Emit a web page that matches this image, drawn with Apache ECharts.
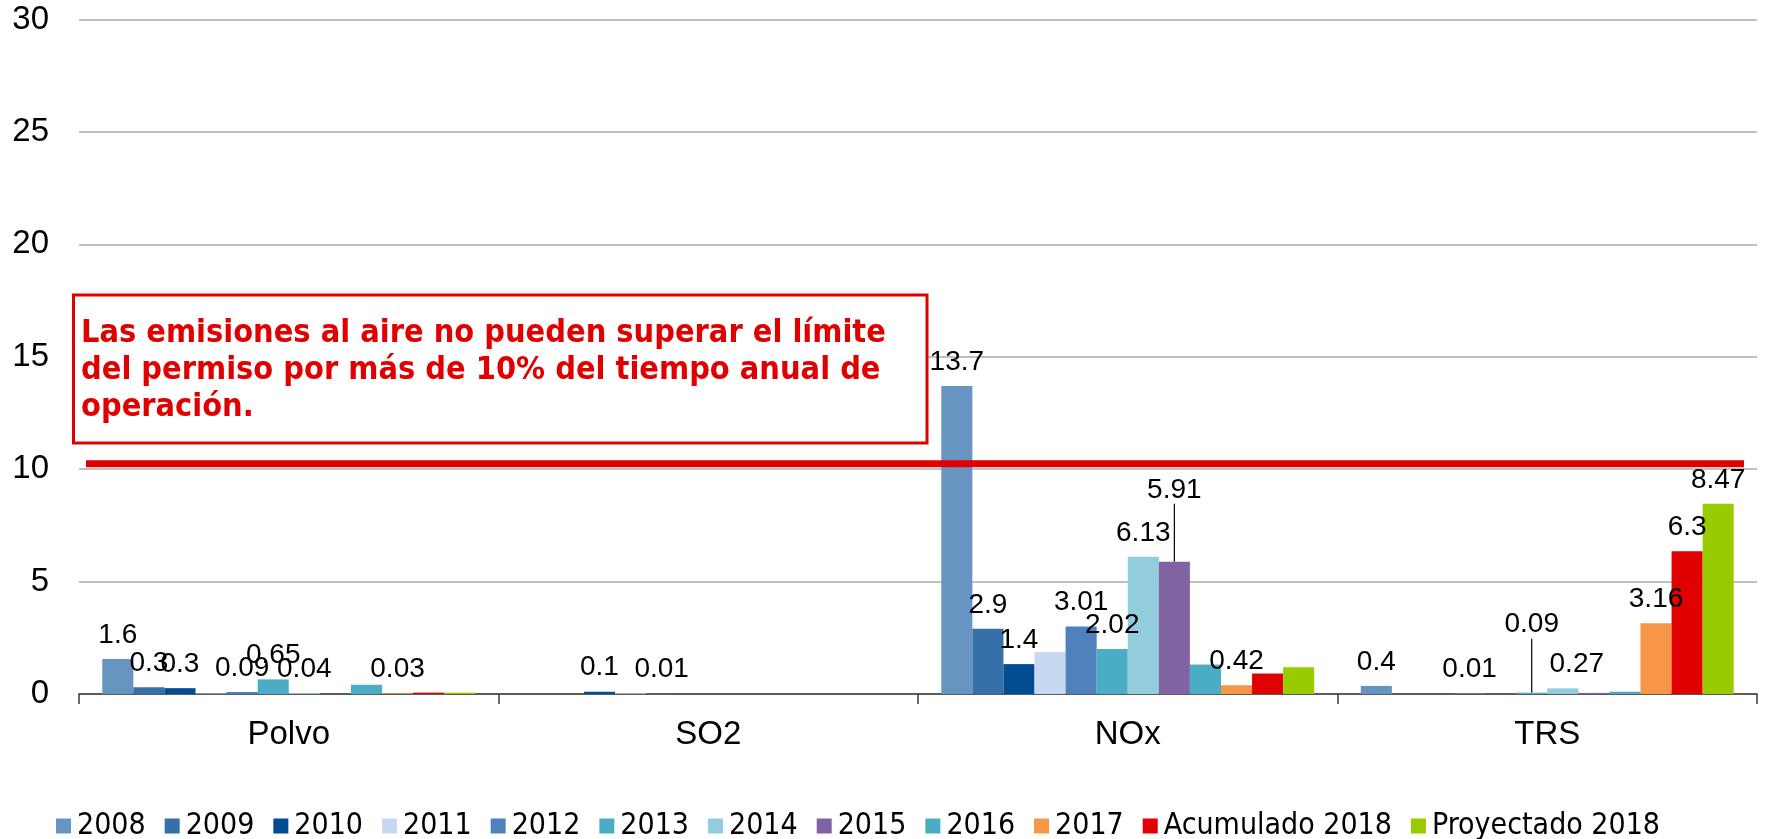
<!DOCTYPE html>
<html>
<head>
<meta charset="utf-8">
<script src="https://cdn.jsdelivr.net/npm/echarts@6/dist/echarts.min.js"></script>
<style>html,body{margin:0;padding:0;background:#fff}#c{width:1770px;height:839px}</style>
</head>
<body>
<div id="c"></div>
<script>
// ---- data ----
const categories = ['Polvo', 'SO2', 'NOx', 'TRS'];
const seriesNames = ['2008', '2009', '2010', '2011', '2012', '2013', '2014', '2015', '2016', '2017', 'Acumulado 2018', 'Proyectado 2018'];

const values2008 = [1.56, 0, 13.7, 0.36];
const values2009 = [0.3, 0, 2.9, 0];
const values2010 = [0.26, 0.1, 1.33, 0];
const values2011 = [0.02, 0.03, 1.87, 0.01];
const values2012 = [0.09, 0.01, 3.0, 0];
const values2013 = [0.65, 0, 2.0, 0.06];
const values2014 = [0.04, 0, 6.1, 0.25];
const values2015 = [0, 0, 5.88, 0.05];
const values2016 = [0.41, 0, 1.31, 0.1];
const values2017 = [0.03, 0, 0.39, 3.15];
const valuesAcum2018 = [0.06, 0, 0.91, 6.35];
const valuesProy2018 = [0.06, 0, 1.19, 8.46];

const labels2008 = ['1.6', '', '13.7', '0.4'];
const labels2009 = ['0.3', '', '2.9', ''];
const labels2010 = ['0.3', '0.1', '1.4', ''];
const labels2011 = ['', '', '', '0.01'];
const labels2012 = ['0.09', '0.01', '3.01', ''];
const labels2013 = ['0.65', '', '2.02', '0.09'];
const labels2014 = ['0.04', '', '6.13', '0.27'];
const labels2015 = ['', '', '5.91', ''];
const labels2016 = ['', '', '', ''];
const labels2017 = ['0.03', '', '0.42', '3.16'];
const labelsAcum2018 = ['', '', '', '6.3'];
const labelsProy2018 = ['', '', '', '8.47'];

const yMin = 0, yMax = 30, yInterval = 5;
const limitValue = 10.24;
const noteText = 'Las emisiones al aire no pueden superar el límite\ndel permiso por más de 10% del tiempo anual de\noperación.';

// ---- style ----
const colors = ['#6794c1', '#3570a9', '#024d91', '#c6d9f0', '#4f81bd', '#4bacc6', '#93cddd', '#8064a2', '#4bacc6', '#f79646', '#e00000', '#99cc00'];
const allValues = [values2008, values2009, values2010, values2011, values2012, values2013, values2014, values2015, values2016, values2017, valuesAcum2018, valuesProy2018];
const allLabels = [labels2008, labels2009, labels2010, labels2011, labels2012, labels2013, labels2014, labels2015, labels2016, labels2017, labelsAcum2018, labelsProy2018];

// label displacement (series index -> data index -> shift)
const labelShift = { 5: { 3: { dy: -44, line: true } }, 6: { 3: { dx: 14 } }, 7: { 2: { dy: -48, line: true } } };

const series = seriesNames.map(function (name, si) {
  const labs = allLabels[si];
  return {
    name: name,
    type: 'bar',
    barGap: '0%',
    barCategoryGap: '11.1%',
    itemStyle: { color: colors[si] },
    data: allValues[si].map(function (v, di) {
      const item = { value: v };
      const sh = labelShift[si] && labelShift[si][di];
      if (sh && sh.line) item.labelLine = { show: true, lineStyle: { color: '#000', width: 1.2 } };
      return item;
    }),
    label: {
      show: true,
      position: 'top',
      distance: 10,
      fontFamily: 'Liberation Sans, Arial, sans-serif',
      fontSize: 28,
      color: '#000',
      formatter: function (p) { return labs[p.dataIndex]; }
    },
    labelLayout: function (p) {
      const sh = labelShift[si] && labelShift[si][p.dataIndex];
      if (sh) return { dx: sh.dx || 0, dy: sh.dy || 0 };
      return {};
    }
  };
});

const chart = echarts.init(document.getElementById('c'), null, { renderer: 'canvas' });
chart.setOption({
  animation: false,
  backgroundColor: '#fff',
  color: colors,
  grid: { left: 79, right: 13, top: 19.5, bottom: 145, containLabel: false },
  legend: {
    data: seriesNames,
    left: 51,
    top: 806,
    itemWidth: 15,
    itemHeight: 15,
    itemGap: 19,
    icon: 'rect',
    textStyle: { fontFamily: '"DejaVu Sans Condensed", "DejaVu Sans", sans-serif', fontSize: 30, color: '#000', padding: [0, 0, 0, 1] }
  },
  xAxis: {
    type: 'category',
    data: categories,
    axisLine: { lineStyle: { color: '#3a3a3a', width: 1.5 } },
    axisTick: { show: true, length: 10, lineStyle: { color: '#3a3a3a', width: 1.5 } },
    axisLabel: { fontFamily: 'Liberation Sans, Arial, sans-serif', fontSize: 33, color: '#000', margin: 24 }
  },
  yAxis: {
    type: 'value',
    min: yMin,
    max: yMax,
    interval: yInterval,
    axisLine: { show: false },
    axisTick: { show: false },
    splitLine: { lineStyle: { color: '#c0c0c0', width: 2 } },
    axisLabel: { fontFamily: 'Liberation Sans, Arial, sans-serif', fontSize: 33, color: '#000', margin: 30 }
  },
  series: series
});

// annotations: limit line and note box
const yLimit = chart.convertToPixel({ yAxisIndex: 0 }, limitValue);
chart.setOption({
  graphic: [
    {
      type: 'line',
      z: 100,
      shape: { x1: 86, y1: yLimit, x2: 1744, y2: yLimit },
      style: { stroke: '#e00000', lineWidth: 7 }
    },
    {
      type: 'rect',
      z: 100,
      shape: { x: 73.5, y: 295, width: 853.5, height: 148 },
      style: { fill: '#fff', stroke: '#e00000', lineWidth: 3 }
    },
    {
      type: 'text',
      z: 101,
      x: 81,
      y: 315,
      style: {
        text: noteText,
        fill: '#e00000',
        fontFamily: '"DejaVu Sans Condensed", "DejaVu Sans", sans-serif',
        fontWeight: 'bold',
        fontSize: 32.2,
        lineHeight: 37,
        verticalAlign: 'top',
        align: 'left'
      }
    }
  ]
});
</script>
</body>
</html>
